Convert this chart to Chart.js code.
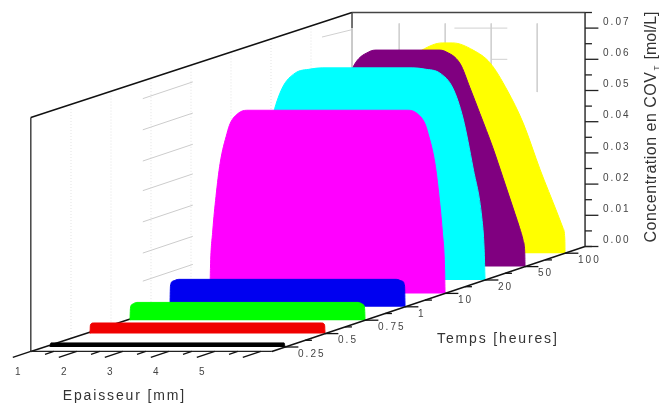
<!DOCTYPE html>
<html>
<head>
<meta charset="utf-8">
<style>
  html, body { margin: 0; padding: 0; background: #fff; }
  canvas { display: block; }
</style>
<script src="https://cdn.jsdelivr.net/npm/chart.js@4"></script>
</head>
<body>
<canvas id="chart" width="661" height="408"></canvas>
<script>
// axis values
const timeLabels = ['0.25', '0.5', '0.75', '1', '10', '20', '50', '100'];
const thicknessLabels = ['1', '2', '3', '4', '5'];
const thicknessTicks = [1, 2, 3, 4, 5, 6];
const concentrationLabels = ['0.00', '0.01', '0.02', '0.03', '0.04', '0.05', '0.06', '0.07'];
const concentrationTicks = [0, 0.01, 0.02, 0.03, 0.04, 0.05, 0.06, 0.07];

// one profile per time, thickness in mm and concentration in mol/L
const thickness025 = [1.13, 1.15, 6.22, 6.24];
const conc025 = [0, 0.0013, 0.0013, 0];
const thickness05 = [1.13, 1.14, 1.2, 6.17, 6.23, 6.24];
const conc05 = [0, 0.0028, 0.0034, 0.0034, 0.0028, 0];
const thickness075 = [1.13, 1.14, 1.18, 1.28, 6.09, 6.19, 6.23, 6.24];
const conc075 = [0, 0.0038, 0.0051, 0.0057, 0.0057, 0.0051, 0.0038, 0];
const thickness1 = [1.13, 1.14, 1.19, 1.32, 6.05, 6.18, 6.23, 6.24];
const conc1 = [0, 0.0066, 0.0082, 0.0088, 0.0088, 0.0082, 0.0066, 0];
const thickness10 = [1.13, 1.14, 1.19, 1.26, 1.35, 1.5, 1.57, 1.75, 1.93, 5.44, 5.62, 5.8, 5.87, 6.02, 6.11, 6.18, 6.23, 6.24];
const conc10 = [0, 0.008, 0.02, 0.031, 0.0417, 0.0513, 0.0545, 0.0578, 0.0587, 0.0587, 0.0578, 0.0545, 0.0513, 0.0417, 0.031, 0.02, 0.008, 0];
const thickness20 = [1.13, 1.15, 1.2, 1.39, 1.61, 1.83, 2.11, 2.44, 2.7, 4.67, 4.93, 5.26, 5.54, 5.76, 5.98, 6.17, 6.22, 6.24];
const conc20 = [0, 0.01, 0.0199, 0.0359, 0.0519, 0.0615, 0.0663, 0.0676, 0.068, 0.068, 0.0676, 0.0663, 0.0615, 0.0519, 0.0359, 0.0199, 0.01, 0];
const thickness50 = [1.13, 1.135, 1.17, 1.25, 1.35, 1.61, 1.83, 2.11, 2.33, 2.54, 2.87, 3.0, 4.37, 4.5, 4.83, 5.04, 5.26, 5.54, 5.76, 6.02, 6.12, 6.2, 6.235, 6.24];
const conc50 = [0, 0.004, 0.0083, 0.0125, 0.017, 0.0285, 0.0381, 0.049, 0.0574, 0.065, 0.069, 0.0694, 0.0694, 0.069, 0.065, 0.0574, 0.049, 0.0381, 0.0285, 0.017, 0.0125, 0.0083, 0.004, 0];
const thickness100 = [1.13, 1.135, 1.17, 1.3, 1.67, 2.04, 2.39, 2.76, 3.13, 3.57, 3.8, 4.24, 4.61, 4.98, 5.33, 5.7, 6.07, 6.2, 6.235, 6.24];
const conc100 = [0, 0.0045, 0.0079, 0.0129, 0.0267, 0.0417, 0.0523, 0.061, 0.0651, 0.0674, 0.0674, 0.0651, 0.061, 0.0523, 0.0417, 0.0267, 0.0129, 0.0079, 0.0045, 0];

// faint remains of the grid on the walls
const wallGridTimes = [0.675, 1.675, 2.675, 3.675, 4.675, 5.675, 6.675];
const wallSlopeConc = [0.0105, 0.0195, 0.0295, 0.0395, 0.049, 0.059, 0.069];
const backGridThickness = [2.2, 3.2, 4.2, 5.2];

// box limits
const thicknessMin = 1;
const thicknessMax = 6.24;
const timeMin = -0.33;
const timeMax = 7.5;
const concMax = 0.075;
const backCorner = 1.174;

// oblique view: each time step moves a profile to the right and up
const timeShiftX = 0.8696;
const timeShiftY = 0.004295;

function project(thickness, time, conc) {
    return { x: thickness + timeShiftX * time, y: conc + timeShiftY * time };
}

function line(points, color, width, dash) {
    return {
        data: points,
        showLine: true,
        borderColor: color,
        borderWidth: width,
        borderDash: dash || [],
        pointRadius: 0,
        fill: false,
        tension: 0
    };
}

function profile(thickness, conc, time, color) {
    return {
        data: thickness.map((t, i) => project(t, time, conc[i])),
        showLine: true,
        borderColor: color,
        borderWidth: 1,
        backgroundColor: color,
        pointRadius: 0,
        cubicInterpolationMode: 'monotone',
        fill: { value: project(0, time, 0).y }
    };
}

const walls = [];
wallGridTimes.forEach(t => {
    walls.push(line([project(thicknessMin, t, 0), project(thicknessMin, t, concMax)], '#e2e2e2', 1, [1, 2]));
});
wallSlopeConc.forEach(c => {
    walls.push(line([project(thicknessMin, 2.47, c), project(thicknessMin, 3.72, c)], '#cccccc', 1));
});
backGridThickness.forEach(t => {
    walls.push(line([project(t, timeMax, 0.0715), project(t, timeMax, 0.0495)], '#d0d0d0', 1));
});
walls.push(line([project(3.4, timeMax, 0.07), project(4.55, timeMax, 0.07)], '#d0d0d0', 1));
walls.push(line([project(4.2, timeMax, 0.06), project(4.55, timeMax, 0.06)], '#d0d0d0', 1));
walls.push(line([project(thicknessMin, 6.95, 0.0695), project(backCorner, timeMax, 0.0695)], '#d0d0d0', 1));

const box = [
    line([project(thicknessMin, timeMin, 0), project(thicknessMin, timeMin, concMax)], '#444444', 1.5),
    line([project(thicknessMin, timeMin, concMax), project(backCorner, timeMax, concMax)], '#111111', 1.5),
    line([project(backCorner, timeMax, concMax), project(thicknessMax, timeMax, concMax)], '#444444', 1.5),
    line([project(backCorner, timeMax, concMax), project(backCorner, timeMax, 0.07)], '#444444', 1.5),
    line([project(backCorner, timeMax, 0.07), project(backCorner, timeMax, 0)], '#c4c4c4', 1),
    line([project(thicknessMin, timeMin, 0), project(backCorner, timeMax, 0)], '#111111', 1.5)
];

const series = [
    profile(thickness100, conc100, 7, '#ffff00'),
    profile(thickness50, conc50, 6, '#800080'),
    profile(thickness20, conc20, 5, '#00ffff'),
    profile(thickness10, conc10, 4, '#ff00ff'),
    profile(thickness1, conc1, 3, '#0000f0'),
    profile(thickness075, conc075, 2, '#00ff00'),
    profile(thickness05, conc05, 1, '#f00000'),
    profile(thickness025, conc025, 0, '#000000')
];

const axes = [
    line([project(thicknessMin, timeMin, 0), project(thicknessMax, timeMin, 0)], '#222222', 1.2),
    line([project(thicknessMax, timeMin, 0), project(thicknessMax, timeMax, 0)], '#111111', 1.5),
    line([project(thicknessMax, timeMax, 0), project(thicknessMax, timeMax, concMax)], '#333333', 1.5)
];
// ticks of the thickness axis, long on the mm and short between them
thicknessTicks.forEach(t => {
    axes.push(line([project(t, timeMin, 0), project(t, timeMin - 0.45, 0)], '#111111', 1.3));
    if (t < 6) {
        axes.push(line([project(t + 0.5, timeMin, 0), project(t + 0.5, timeMin - 0.22, 0)], '#111111', 1.3));
    }
});
// ticks of the time axis
timeLabels.forEach((label, i) => {
    axes.push(line([project(thicknessMax, i, 0), project(thicknessMax + 0.29, i, 0)], '#111111', 1.3));
    axes.push(line([project(thicknessMax, i + 0.5, 0), project(thicknessMax + 0.15, i + 0.5, 0)], '#111111', 1.3));
});
// ticks of the concentration axis
concentrationTicks.forEach(c => {
    axes.push(line([project(thicknessMax, timeMax, c), project(thicknessMax + 0.29, timeMax, c)], '#222222', 1.3));
    axes.push(line([project(thicknessMax, timeMax, c + 0.005), project(thicknessMax + 0.15, timeMax, c + 0.005)], '#222222', 1.3));
});

// draw order goes back to front, Chart.js paints the first dataset last
const datasets = [...walls, ...box, ...series, ...axes].reverse();

const axisText = {
    id: 'axisText',
    afterDatasetsDraw(chart) {
        const { ctx, scales } = chart;
        const toPixel = p => ({ x: scales.x.getPixelForValue(p.x), y: scales.y.getPixelForValue(p.y) });

        function label(text, pos, dx, dy, align, font, spacing, color) {
            ctx.font = font;
            ctx.letterSpacing = spacing;
            ctx.fillStyle = color;
            ctx.textAlign = align;
            ctx.textBaseline = 'middle';
            ctx.fillText(text, pos.x + dx, pos.y + dy);
        }

        const tickFont = '10px "Liberation Sans"';
        const titleFont = '14px "Liberation Sans"';
        ctx.save();

        thicknessLabels.forEach((text, i) => {
            const pos = toPixel(project(thicknessTicks[i], timeMin, 0));
            label(text, pos, -13, 21, 'center', tickFont, '0px', '#444444');
        });
        timeLabels.forEach((text, i) => {
            const pos = toPixel(project(thicknessMax, i, 0));
            label(text, pos, 13, 7, 'left', tickFont, '2px', '#444444');
        });
        concentrationLabels.forEach((text, i) => {
            const pos = toPixel(project(thicknessMax, timeMax, concentrationTicks[i]));
            label(text, pos, 18, -6, 'left', tickFont, '2px', '#444444');
        });

        const front = toPixel(project(thicknessMin, timeMin, 0));
        label('Epaisseur [mm]', front, 32, 45, 'left', titleFont, '1.85px', '#333333');
        const side = toPixel(project(thicknessMax, 2, 0));
        label('Temps [heures]', side, 72, 19, 'left', titleFont, '1.85px', '#333333');

        // rotated title of the concentration axis, with the T as a subscript
        const top = toPixel(project(thicknessMax, timeMax, 0));
        ctx.translate(top.x + 67, top.y - 4);
        ctx.rotate(-Math.PI / 2);
        label('Concentration en COV', { x: 0, y: 0 }, 0, 0, 'left', '16px "Liberation Sans"', '0.5px', '#333333');
        const used = ctx.measureText('Concentration en COV').width;
        label('T', { x: used + 1, y: 0 }, 0, 5, 'left', '8px "Liberation Sans"', '0px', '#333333');
        label('[mol/L]', { x: used + 12, y: 0 }, 0, 0, 'left', '16px "Liberation Sans"', '0px', '#333333');
        ctx.restore();
    }
};

new Chart(document.getElementById('chart'), {
    type: 'scatter',
    data: { datasets: datasets },
    plugins: [axisText],
    options: {
        responsive: false,
        animation: false,
        layout: { padding: 0 },
        plugins: {
            legend: { display: false },
            tooltip: { enabled: false }
        },
        scales: {
            x: { type: 'linear', display: false, min: 0.0435, max: 14.413 },
            y: { type: 'linear', display: false, min: -0.01955, max: 0.11122 }
        }
    }
});
</script>
</body>
</html>
